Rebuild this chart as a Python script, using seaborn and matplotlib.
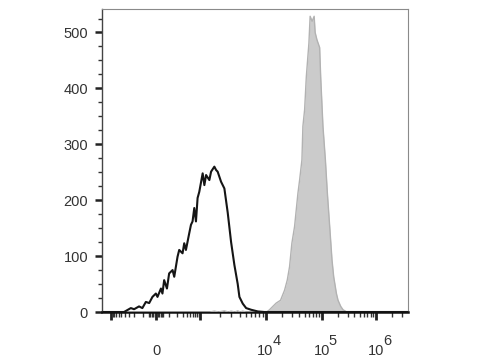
import numpy as np
import matplotlib
matplotlib.use("Agg")
import matplotlib.pyplot as plt
import seaborn as sns
from matplotlib.ticker import FixedLocator, FixedFormatter

# ---- data (fluorescence intensity vs. event count) ----
black_x = [-1700, -417, -260, -205, -140, -105, -74, -48, -25, -2, 9, 33, 44, 57, 80,
           100, 136, 156, 202, 229, 292, 329, 371, 468, 527, 588, 662, 743, 831, 933,
           1087, 1155, 1227, 1378, 1464, 1644, 1748, 1848, 2084, 2343, 2634, 2970,
           3337, 3752, 3983, 4479, 5050, 6027, 7617, 9624, 4.0e6]
black_y = [0, 0, 7, 5, 10, 7, 18, 16, 27, 33, 27, 42, 33, 57, 42,
           69, 75, 63, 99, 111, 105, 123, 111, 141, 156, 162, 186, 162, 204, 215,
           248, 227, 245, 236, 251, 260, 254, 251, 233, 221, 178, 125,
           84, 50, 27, 15, 7, 4, 1, 0, 0]

gray_x = [-1700, 1400, 1644, 1900, 2342, 2700, 2970, 3400, 3752, 4100, 4479, 5000,
          10500, 11780, 13500, 15520, 18520, 21840, 24390, 26800, 29480, 32930,
          37730, 40460, 44490, 46300, 49700, 53300, 59250, 62300, 67650, 73450,
          76500, 82350, 92000, 95950, 105600, 117100, 127500, 140600, 155100,
          166700, 187200, 200400, 224900, 248100, 290500, 4.0e6]
gray_y = [0, 0, 1.5, 0, 2, 0, 1.5, 0, 2, 0, 1.5, 0,
          0, 4, 10, 16, 21, 39, 57, 81, 123, 153,
          212, 236, 272, 332, 362, 421, 481, 529, 520, 529,
          500, 487, 473, 421, 332, 272, 212, 153, 93,
          63, 33, 21, 10, 4, 0, 0]

y_major = [0, 100, 200, 300, 400, 500]
x_major = [-1000, 0, 1000, 1e4, 1e5, 1e6]
x_major_labels = ["", "0", "", "10", "10", "10"]
x_exponents = {1e4: "4", 1e5: "5", 1e6: "6"}

# ---- biexponential-like display scale ----
U = np.array([-20, -np.arcsinh(10), 0, np.arcsinh(10), np.arcsinh(100),
              np.arcsinh(1000), np.arcsinh(10000), 20])
P = np.array([-143, 112, 157, 201, 266, 322, 376, 612.9])


def fwd(x):
    x = np.asarray(x, dtype=float)
    return np.interp(np.arcsinh(x / 100.0), U, P)


def inv(p):
    p = np.asarray(p, dtype=float)
    return 100.0 * np.sinh(np.interp(p, P, U))


sns.set_style("white")
plt.rcParams["font.family"] = ["Liberation Sans", "DejaVu Sans"]

fig = plt.figure(figsize=(4.8, 3.6), dpi=100)
ax = fig.add_axes([102 / 480, 48 / 360, 306 / 480, 303 / 360])
ax.set_xscale("function", functions=(fwd, inv))

gx = np.array(gray_x)
gy = np.array(gray_y)
ax.fill_between(gx, 0, gy, color="#cbcbcb", linewidth=0, zorder=2)
sns.lineplot(x=gx, y=gy, ax=ax, color="#b2b2b2", linewidth=1.0, zorder=3,
             estimator=None, sort=False)
sns.lineplot(x=black_x, y=black_y, ax=ax, color="#151515", linewidth=1.5, zorder=4,
             estimator=None, sort=False)

ax.set_xlim(-1825, 3.92e6)
ax.set_ylim(0, 542)

# y ticks
ax.yaxis.set_major_locator(FixedLocator(y_major))
ax.yaxis.set_minor_locator(FixedLocator(np.arange(0, 541, 25)))
ax.tick_params(axis="y", which="major", direction="out", length=5, width=1.8,
               color="#222222", labelsize=10.5, labelcolor="#333333", pad=5, left=True)
ax.tick_params(axis="y", which="minor", direction="out", length=3, width=1.0,
               color="#333333", left=True)

# x ticks
minor = []
minor += list(-np.arange(100, 1000, 100)) + [-50, -40, -30, -20, -10, 10, 20, 30, 40, 50]
minor += list(np.arange(100, 1000, 100))
for dec in [1e3, 1e4, 1e5]:
    minor += list(np.arange(2, 10) * dec)
minor += [2e6, 3e6]
ax.xaxis.set_major_locator(FixedLocator(x_major))
ax.xaxis.set_major_formatter(FixedFormatter(x_major_labels))
ax.xaxis.set_minor_locator(FixedLocator(minor))
ax.tick_params(axis="x", which="major", direction="out", length=6, width=2.0,
               color="#222222", labelsize=10.5, labelcolor="#333333", pad=25, bottom=True)
ax.tick_params(axis="x", which="minor", direction="out", length=3.5, width=1.0,
               color="#333333", bottom=True)
for lab in ax.get_xticklabels():
    lab.set_verticalalignment("baseline")

# exponents of the decade labels
for xv, ex in x_exponents.items():
    ax.annotate(ex, xy=(xv, 0), xycoords=ax.get_xaxis_transform(),
                xytext=(5, -23.5), textcoords="offset points",
                ha="left", va="baseline", fontsize=10.5, color="#333333",
                annotation_clip=False)

for side in ["top", "right"]:
    ax.spines[side].set_color("#8a8a8a")
    ax.spines[side].set_linewidth(0.8)
ax.spines["left"].set_color("#444444")
ax.spines["left"].set_linewidth(1.0)
ax.spines["bottom"].set_color("#111111")
ax.spines["bottom"].set_linewidth(1.8)

ax.set_xlabel("")
ax.set_ylabel("")
fig.savefig("out.png", dpi=100)
